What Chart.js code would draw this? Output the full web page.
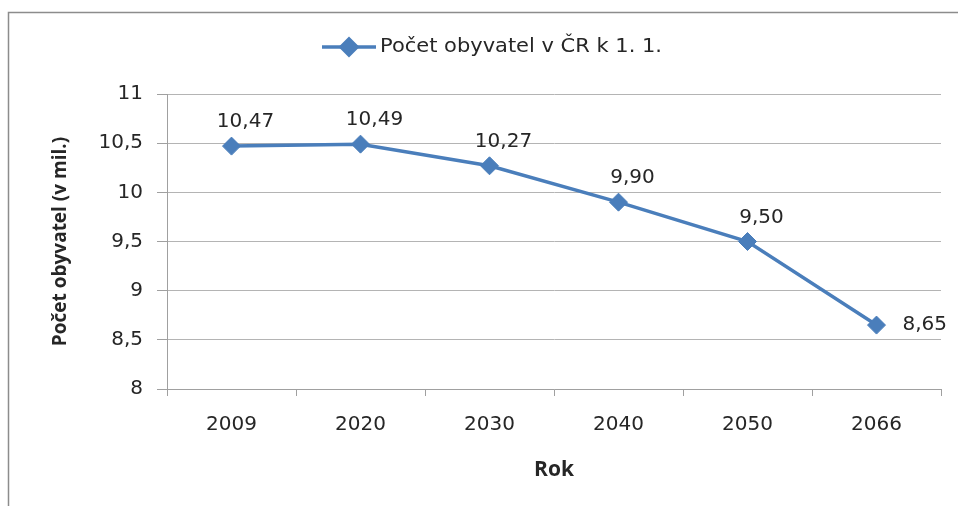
<!DOCTYPE html>
<html>
<head>
<meta charset="utf-8">
<script src="https://cdn.jsdelivr.net/npm/chart.js@4.4.1/dist/chart.umd.min.js"></script>
<style>
  html, body { margin: 0; padding: 0; background: #fff; }
  #wrap { width: 958px; height: 506px; }
</style>
</head>
<body>
<div id="wrap"><canvas id="chart" width="958" height="506"></canvas></div>
<script>
// data
const years = ['2009', '2020', '2030', '2040', '2050', '2066'];
const population = [10.47, 10.49, 10.27, 9.90, 9.50, 8.65];
const seriesName = 'Počet obyvatel v ČR k 1. 1.';
const yTitle = 'Počet obyvatel (v mil.)';
const xTitle = 'Rok';

const blue = '#4a7ebb';
const textColor = '#262626';
const numFont = 'DejaVu Sans';
const titleFont = 'Open Sans';

function comma(v, digits) {
    const s = digits === undefined ? String(v) : v.toFixed(digits);
    return s.replace('.', ',');
}

// frame around the chart, legend and point labels
const decor = {
    id: 'decor',
    beforeDraw(chart) {
        const ctx = chart.ctx;
        ctx.save();
        ctx.strokeStyle = '#8c8c8c';
        ctx.lineWidth = 1.5;
        ctx.beginPath();
        ctx.moveTo(8.5, 506);
        ctx.lineTo(8.5, 12.5);
        ctx.lineTo(958, 12.5);
        ctx.stroke();
        ctx.restore();
    },
    afterDraw(chart) {
        const ctx = chart.ctx;
        ctx.save();
        // legend
        const ly = 47;
        ctx.strokeStyle = blue;
        ctx.lineWidth = 3.5;
        ctx.beginPath();
        ctx.moveTo(322, ly);
        ctx.lineTo(376, ly);
        ctx.stroke();
        Chart.helpers.drawPoint(ctx, { pointStyle: 'rectRot', radius: 8, borderWidth: 1 }, 349, ly);
        ctx.fillStyle = blue;
        ctx.fill();
        ctx.fillStyle = textColor;
        ctx.font = '19px "' + numFont + '"';
        ctx.textAlign = 'left';
        ctx.textBaseline = 'middle';
        // the legend text in the picture is a bit wider than the font, stretch it
        const w = ctx.measureText(seriesName).width;
        ctx.save();
        ctx.translate(380, ly);
        ctx.scale(282 / w, 1);
        ctx.fillText(seriesName, 0, 0);
        ctx.restore();

        // point labels
        const meta = chart.getDatasetMeta(0);
        ctx.font = '20px "' + numFont + '"';
        meta.data.forEach(function(pt, i) {
            const txt = comma(population[i], 2);
            if (i === meta.data.length - 1) {
                ctx.textAlign = 'left';
                ctx.fillText(txt, pt.x + 26, pt.y);
            } else {
                ctx.textAlign = 'center';
                ctx.fillText(txt, pt.x + 14, pt.y - 24);
            }
        });
        ctx.restore();
    }
};

new Chart(document.getElementById('chart'), {
    type: 'line',
    data: {
        labels: years,
        datasets: [{
            label: seriesName,
            data: population,
            borderColor: blue,
            backgroundColor: blue,
            borderWidth: 3.5,
            pointStyle: 'rectRot',
            pointRadius: 9,
            pointHoverRadius: 9,
            pointBorderWidth: 1,
            pointBackgroundColor: blue,
            pointBorderColor: blue,
            tension: 0
        }]
    },
    options: {
        responsive: false,
        animation: false,
        events: [],
        layout: { padding: { left: 0, right: 17, top: 94, bottom: 0 } },
        plugins: {
            legend: { display: false },
            tooltip: { enabled: false }
        },
        scales: {
            x: {
                offset: true,
                grid: {
                    offset: true,
                    drawOnChartArea: false,
                    tickLength: 7,
                    tickColor: '#a0a0a0'
                },
                border: { color: '#a0a0a0', width: 1 },
                ticks: {
                    color: textColor,
                    font: { family: numFont, size: 20 },
                    padding: 17,
                    maxRotation: 0
                },
                title: {
                    display: true,
                    text: xTitle,
                    color: textColor,
                    font: { family: titleFont, size: 21, weight: 'bold' },
                    padding: { top: 0, bottom: 23 }
                },
                afterFit(scale) { scale.height = 117; }
            },
            y: {
                min: 8,
                max: 11,
                ticks: {
                    stepSize: 0.5,
                    color: textColor,
                    font: { family: numFont, size: 20 },
                    padding: 14,
                    callback: function(v) { return comma(v); }
                },
                grid: {
                    color: '#b4b4b4',
                    tickLength: 10,
                    tickColor: '#a0a0a0'
                },
                border: { color: '#a0a0a0', width: 1 },
                title: {
                    display: true,
                    text: yTitle,
                    color: textColor,
                    font: { family: titleFont, size: 19, weight: 'bold' },
                    padding: { top: 49, bottom: 0 }
                },
                afterFit(scale) { scale.width = 167; }
            }
        }
    },
    plugins: [decor]
});
</script>
</body>
</html>
